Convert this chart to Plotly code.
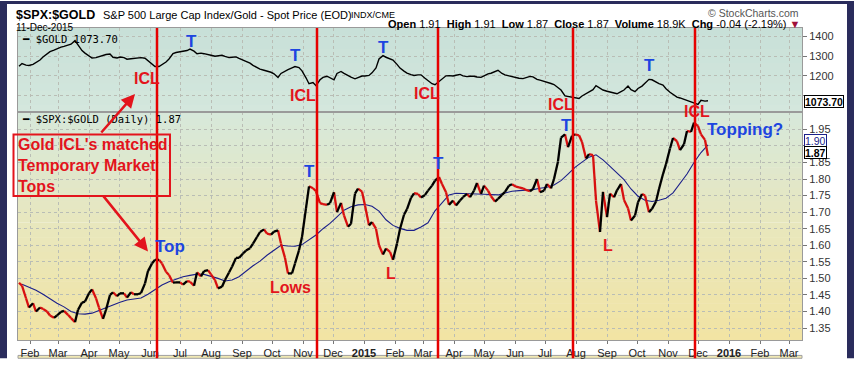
import plotly.graph_objects as go
import pandas as pd

# ---------------- data ----------------
# twice-weekly samples (Tue/Fri) for the price series, weekly for the moving average
dates = pd.date_range("2014-01-21", "2015-12-11", freq="W-TUE").union(
    pd.date_range("2014-01-24", "2015-12-11", freq="W-FRI"))
week_dates = pd.date_range("2014-01-24", "2015-12-11", freq="7D")

gold = [1248, 1262, 1254, 1252, 1258, 1266, 1280, 1295, 1312, 1322,
        1330, 1338, 1345, 1349, 1355, 1360, 1378, 1355, 1328, 1315,
        1302, 1290, 1292, 1297, 1304, 1308, 1310, 1294, 1290, 1295,
        1292, 1284, 1286, 1288, 1290, 1292, 1289, 1275, 1258, 1247,
        1247, 1256, 1270, 1285, 1313, 1318, 1321, 1323, 1328, 1335,
        1325, 1312, 1315, 1312, 1309, 1304, 1299, 1302, 1304, 1298,
        1292, 1294, 1296, 1288, 1280, 1272, 1264, 1253, 1241, 1234,
        1228, 1225, 1218, 1210, 1192, 1212, 1224, 1231, 1240, 1247,
        1242, 1225, 1190, 1160, 1166, 1150, 1180, 1192, 1198, 1190,
        1180, 1212, 1222, 1212, 1200, 1193, 1185, 1192, 1199, 1199,
        1202, 1215, 1240, 1285, 1302, 1294, 1286, 1280, 1258, 1239,
        1224, 1214, 1206, 1202, 1205, 1205, 1188, 1176, 1160, 1155,
        1170, 1183, 1200, 1201, 1199, 1203, 1207, 1200, 1196, 1198,
        1198, 1194, 1192, 1200, 1210, 1213, 1220, 1228, 1212, 1205,
        1200, 1196, 1191, 1188, 1186, 1190, 1197, 1195, 1182, 1178,
        1173, 1168, 1161, 1156, 1140, 1128, 1098, 1096, 1093, 1090,
        1085, 1098, 1111, 1118, 1130, 1150, 1135, 1128, 1122, 1117,
        1112, 1109, 1120, 1128, 1148, 1130, 1120, 1136, 1148, 1162,
        1182, 1180, 1168, 1160, 1153, 1135, 1117, 1105, 1092, 1088,
        1081, 1078, 1070, 1062, 1055, 1076, 1072, 1074]

ratio = [1.487, 1.478, 1.440, 1.412, 1.425, 1.400, 1.412, 1.408, 1.400, 1.388,
         1.381, 1.388, 1.399, 1.402, 1.390, 1.380, 1.368, 1.405, 1.427, 1.430,
         1.455, 1.467, 1.440, 1.412, 1.378, 1.405, 1.450, 1.458, 1.446, 1.455,
         1.455, 1.442, 1.458, 1.452, 1.452, 1.456, 1.485, 1.522, 1.545, 1.556,
         1.556, 1.545, 1.520, 1.510, 1.487, 1.488, 1.488, 1.481, 1.492, 1.490,
         1.478, 1.518, 1.506, 1.522, 1.525, 1.512, 1.495, 1.470, 1.475, 1.495,
         1.518, 1.535, 1.562, 1.562, 1.575, 1.584, 1.591, 1.605, 1.625, 1.640,
         1.648, 1.635, 1.632, 1.641, 1.645, 1.605, 1.562, 1.515, 1.515, 1.545,
         1.585, 1.625, 1.712, 1.778, 1.772, 1.763, 1.727, 1.724, 1.722, 1.727,
         1.760, 1.700, 1.728, 1.690, 1.656, 1.665, 1.756, 1.771, 1.762, 1.720,
         1.660, 1.670, 1.650, 1.600, 1.572, 1.590, 1.580, 1.556, 1.605, 1.649,
         1.692, 1.709, 1.743, 1.757, 1.755, 1.744, 1.752, 1.765, 1.780, 1.795,
         1.806, 1.785, 1.760, 1.722, 1.735, 1.720, 1.735, 1.745, 1.755, 1.745,
         1.765, 1.788, 1.755, 1.780, 1.765, 1.748, 1.732, 1.740, 1.752, 1.761,
         1.780, 1.784, 1.777, 1.775, 1.772, 1.767, 1.763, 1.770, 1.800, 1.760,
         1.765, 1.785, 1.772, 1.800, 1.853, 1.925, 1.935, 1.896, 1.930, 1.935,
         1.932, 1.912, 1.862, 1.875, 1.872, 1.735, 1.640, 1.761, 1.685, 1.756,
         1.745, 1.766, 1.785, 1.737, 1.712, 1.675, 1.690, 1.730, 1.755, 1.750,
         1.700, 1.710, 1.732, 1.770, 1.815, 1.845, 1.892, 1.924, 1.914, 1.887,
         1.905, 1.945, 1.942, 1.970, 1.960, 1.935, 1.918, 1.870]

ratio_ma = [1.482, 1.473, 1.464, 1.452, 1.438, 1.425, 1.414, 1.400, 1.393, 1.392,
            1.395, 1.404, 1.412, 1.420, 1.428, 1.435, 1.438, 1.441, 1.452, 1.466,
            1.480, 1.490, 1.498, 1.505, 1.509, 1.513, 1.512, 1.507, 1.500, 1.492,
            1.495, 1.505, 1.522, 1.538, 1.552, 1.570, 1.585, 1.600, 1.598, 1.597,
            1.602, 1.616, 1.631, 1.650, 1.666, 1.686, 1.706, 1.716, 1.722, 1.723,
            1.718, 1.703, 1.677, 1.660, 1.651, 1.645, 1.645, 1.655, 1.668, 1.704,
            1.728, 1.752, 1.757, 1.757, 1.756, 1.755, 1.754, 1.752, 1.752, 1.758,
            1.763, 1.765, 1.766, 1.768, 1.772, 1.775, 1.782, 1.795, 1.815, 1.835,
            1.851, 1.866, 1.873, 1.858, 1.838, 1.817, 1.798, 1.770, 1.748, 1.736,
            1.732, 1.736, 1.742, 1.758, 1.785, 1.815, 1.850, 1.880, 1.903]

icl_dates = ["2014-06-08", "2014-11-15", "2015-03-16", "2015-07-29", "2015-11-28"]

tick_dates = pd.date_range("2014-02-01", "2016-03-01", freq="MS")
tick_labels = ["Feb", "Mar", "Apr", "May", "Jun", "Jul", "Aug", "Sep", "Oct", "Nov", "Dec",
               "<b>2015</b>", "Feb", "Mar", "Apr", "May", "Jun", "Jul", "Aug", "Sep", "Oct",
               "Nov", "Dec", "<b>2016</b>", "Feb", "Mar"]
ratio_ticks = [1.35, 1.40, 1.45, 1.50, 1.55, 1.60, 1.65, 1.70, 1.75, 1.80, 1.85, 1.90, 1.95]
ratio_tick_labels = ["1.35", "1.40", "1.45", "1.50", "1.55", "1.60", "1.65", "1.70", "1.75",
                     "1.80", "1.85", "", "1.95"]   # 1.90 sits behind the MA tag
gold_ticks = [1100, 1200, 1300, 1400]
gold_tick_labels = ["", "1200", "1300", "1400"]   # 1100 sits behind the last-value tag

last_gold = 1073.70
last_ratio = 1.87
last_ma = 1.90

# ---------------- geometry helpers (pixel -> paper) ----------------
W, H = 854, 371
PL, PR, PT, PB = 18, 802, 28, 352
SPLIT = 115


def fx(p):
    return (p - PL) / (PR - PL)


def fy(p):
    return (PB - p) / (PB - PT)


FONT = "Arial, Liberation Sans, sans-serif"
RED = "#e3141c"
BLUE = "#1d45e0"
GRID = "#b9bdb5"

fig = go.Figure()

# gold (top panel)
fig.add_trace(go.Scatter(x=dates, y=gold, mode="lines", xaxis="x2", yaxis="y2",
                         line=dict(color="black", width=1.4), hoverinfo="skip"))

# ratio, coloured by direction
ux, uy, dx, dy = [], [], [], []
for i in range(len(ratio) - 1):
    tx, ty = (ux, uy) if ratio[i + 1] >= ratio[i] else (dx, dy)
    tx += [dates[i], dates[i + 1], None]
    ty += [ratio[i], ratio[i + 1], None]

fig.add_trace(go.Scatter(x=week_dates, y=ratio_ma, mode="lines",
                         line=dict(color="#1b1f8a", width=1.1), hoverinfo="skip"))
fig.add_trace(go.Scatter(x=dx, y=dy, mode="lines", line=dict(color="#d81010", width=2.3),
                         hoverinfo="skip"))
fig.add_trace(go.Scatter(x=ux, y=uy, mode="lines", line=dict(color="black", width=2.3),
                         hoverinfo="skip"))

shapes = []


def grad(p0, p1, c0, c1, n):
    for i in range(n):
        t = (i + 0.5) / n
        c = tuple(round(c0[k] + (c1[k] - c0[k]) * t) for k in range(3))
        a = p0 + (p1 - p0) * i / n
        b = p0 + (p1 - p0) * (i + 1) / n + 0.6
        shapes.append(dict(type="rect", xref="paper", yref="paper", x0=0, x1=1,
                           y0=fy(min(b, p1)), y1=fy(a), fillcolor="rgb(%d,%d,%d)" % c,
                           line=dict(width=0), layer="below"))


grad(PT, SPLIT, (200, 224, 216), (212, 231, 221), 12)
grad(SPLIT, 230, (214, 232, 219), (232, 231, 190), 16)
grad(230, PB, (232, 231, 190), (242, 228, 163), 16)

# next panel strip at the bottom
shapes.append(dict(type="rect", xref="paper", yref="paper", x0=0, x1=1, y0=fy(371), y1=fy(368),
                   fillcolor="rgb(240,232,180)", line=dict(color="#a0a0a0", width=1), layer="below"))

# ICL vertical lines
for d in icl_dates:
    shapes.append(dict(type="line", xref="x", yref="paper", x0=d, x1=d, y0=fy(371), y1=1,
                       line=dict(color="#e60000", width=2.5), layer="above"))

# annotation box
shapes.append(dict(type="rect", xref="paper", yref="paper", x0=fx(13.5), x1=fx(170),
                   y0=fy(202.5), y1=fy(138.5), line=dict(color=RED, width=2), layer="above"))

# navy frame
NAVY = "#2a2c5c"
shapes.append(dict(type="rect", xref="paper", yref="paper", x0=fx(0), x1=fx(7), y0=fy(371), y1=fy(0),
                   fillcolor=NAVY, line=dict(width=0)))
shapes.append(dict(type="rect", xref="paper", yref="paper", x0=fx(847), x1=fx(854), y0=fy(371), y1=fy(0),
                   fillcolor=NAVY, line=dict(width=0)))
shapes.append(dict(type="rect", xref="paper", yref="paper", x0=fx(0), x1=fx(854), y0=fy(3), y1=fy(0),
                   fillcolor=NAVY, line=dict(width=0)))

ann = []


def text(x, y, s, size=11, color="black", xanchor="left", yanchor="middle", family=FONT, **kw):
    ann.append(dict(x=fx(x), y=fy(y), xref="paper", yref="paper", text=s, showarrow=False,
                    xanchor=xanchor, yanchor=yanchor, font=dict(size=size, color=color, family=family), **kw))


# header
text(14, 14, "<b>$SPX:$GOLD</b>", size=12.5)
text(101, 15, "S&amp;P 500 Large Cap Index/Gold - Spot Price (EOD)", size=11)
text(349, 15, "INDX/CME", size=9)
text(14, 27, "11-Dec-2015", size=10)
text(801, 12, "\u00a9 StockCharts.com", size=10.5, color="#555", xanchor="right")
text(802, 24, "<b>Open</b> 1.91  <b>High</b> 1.91  <b>Low</b> 1.87  <b>Close</b> 1.87  "
              "<b>Volume</b> 18.9K  <b>Chg</b> -0.04 (-2.19%) <span style='color:#a0103a'>\u25bc</span>",
     size=11, xanchor="right")

# panel legends
MONO = "DejaVu Sans Mono, monospace"
text(20, 39, "\u2501 $GOLD %.2f" % last_gold, size=10.5, family=MONO)
text(20, 123, "\u2501 $SPX:$GOLD (Daily) %.2f" % last_ratio, size=10.5, family=MONO)

# chart labels
for (x, y, s) in [(191.7, 42, "T"), (295, 57, "T"), (383.3, 48, "T"), (649.3, 67, "T"),
                  (309, 177, "T"), (438.3, 168.5, "T"), (566.7, 129.5, "T")]:
    text(x, y, "<b>%s</b>" % s, size=17, color=BLUE, xanchor="center")
for (x, y, s) in [(146.7, 80, "ICL"), (303.3, 98, "ICL"), (426.7, 96.5, "ICL"), (561, 107.5, "ICL"),
                  (697, 115, "ICL"), (290, 297, "Lows"), (391, 283, "L"), (608.3, 253.5, "L")]:
    text(x, y, "<b>%s</b>" % s, size=16, color=RED, xanchor="center")
text(170, 255, "<b>Top</b>", size=17, color=BLUE, xanchor="center")
text(705, 133, "<b>Topping?</b>", size=17, color=BLUE)
text(16, 171, "<b>Gold ICL's matched<br>Temporary Market<br>Tops</b>", size=16, color=RED,
     align="left")

# arrows
for (tx_, ty_, ax_, ay_) in [(135, 96.5, -35, 40), (148, 260, -46, -57)]:
    ann.append(dict(x=fx(tx_), y=fy(ty_), xref="paper", yref="paper", text="", showarrow=True,
                    ax=ax_, ay=ay_, arrowhead=2, arrowsize=1.1, arrowwidth=2.5, arrowcolor=RED))


# last value tags
def tag(ypx, s, color, border):
    ann.append(dict(x=fx(804), y=fy(ypx), xref="paper", yref="paper", text=s,
                    showarrow=False, xanchor="left", yanchor="middle", bgcolor="white",
                    bordercolor=border, borderwidth=1, borderpad=0, height=11,
                    font=dict(size=10.5, color=color, family=FONT)))


tag(104, "<b>%.2f</b>" % last_gold, "black", "black")
tag(144.5, "%.2f" % last_ma, "#1b1f8a", "#1b1f8a")
tag(157.5, "<b>%.2f</b>" % last_ratio, "black", "black")

split_dom = fy(SPLIT)
xcommon = dict(range=["2014-01-20", "2016-03-14"], tickvals=tick_dates, ticktext=tick_labels,
               showgrid=True, gridcolor=GRID, griddash="dot", gridwidth=1,
               showline=True, linecolor="#9a9a9a", linewidth=1, mirror=True, zeroline=False)
ycommon = dict(side="right", showgrid=True, gridcolor=GRID, griddash="dot", gridwidth=1,
               showline=True, linecolor="#9a9a9a", linewidth=1, mirror=True, zeroline=False,
               ticks="outside", ticklen=4, tickcolor="#777",
               tickfont=dict(size=11, color="#333", family=FONT))

fig.update_layout(
    width=W, height=H,
    margin=dict(l=PL, r=W - PR, t=PT, b=H - PB, pad=0),
    paper_bgcolor="white", plot_bgcolor="rgba(0,0,0,0)",
    showlegend=False,
    xaxis=dict(xcommon, domain=[0, 1], anchor="y", ticks="outside", ticklen=3, tickcolor="#777",
               tickfont=dict(size=11, color="#222", family=FONT)),
    xaxis2=dict(xcommon, domain=[0, 1], anchor="y2", matches="x", showticklabels=False),
    yaxis=dict(ycommon, domain=[0, split_dom], anchor="x", range=[1.314, 2.003],
               tickvals=ratio_ticks, ticktext=ratio_tick_labels),
    yaxis2=dict(ycommon, domain=[split_dom, 1], anchor="x2", range=[1018, 1442],
                tickvals=gold_ticks, ticktext=gold_tick_labels),
    shapes=shapes,
    annotations=ann,
)

fig.write_html("out.html", config={"displayModeBar": False},
               post_script="document.body.style.margin='0';document.body.style.overflow='hidden';")
